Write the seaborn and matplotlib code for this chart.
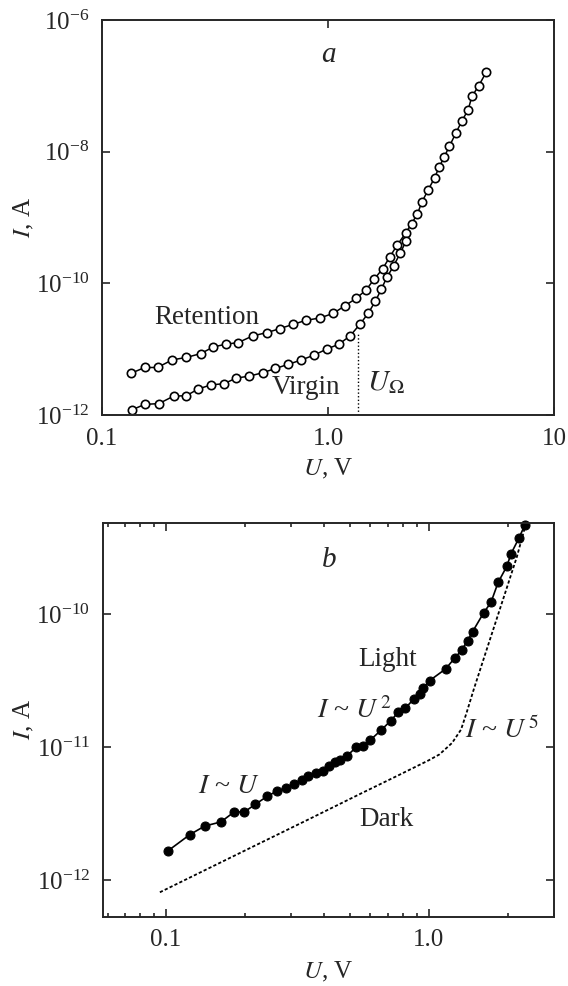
import matplotlib
matplotlib.use("Agg")
import matplotlib.pyplot as plt
import matplotlib.ticker as mticker
import seaborn as sns
import pandas as pd

# Painel a: curvas I-U (Virgin / Retention)
retention_U = [0.135, 0.1545, 0.176, 0.2046, 0.236, 0.274, 0.3105, 0.353, 0.4006, 0.464,
               0.538, 0.614, 0.702, 0.801, 0.922, 1.057, 1.185, 1.334, 1.473, 1.598,
               1.746, 1.879, 2.023, 2.211, 2.345, 2.488, 2.60, 2.78, 2.96, 3.10,
               3.26, 3.44, 3.68, 3.90, 4.17, 4.33, 4.64, 5.01]
retention_I = [4.33e-12, 5.27e-12, 5.27e-12, 6.89e-12, 7.48e-12, 8.59e-12, 1.08e-11, 1.19e-11, 1.26e-11, 1.59e-11,
               1.79e-11, 2.06e-11, 2.39e-11, 2.75e-11, 2.98e-11, 3.51e-11, 4.54e-11, 5.93e-11, 7.92e-11, 1.15e-10,
               1.67e-10, 2.54e-10, 3.81e-10, 5.86e-10, 8.11e-10, 1.14e-9, 1.71e-9, 2.66e-9, 3.99e-9, 5.79e-9,
               8.20e-9, 1.20e-8, 1.92e-8, 2.88e-8, 4.33e-8, 6.89e-8, 1.0e-7, 1.61e-7]

virgin_U = [0.1358, 0.1545, 0.1785, 0.2076, 0.236, 0.266, 0.3048, 0.3455, 0.393, 0.449,
            0.513, 0.5856, 0.664, 0.758, 0.866, 0.985, 1.117, 1.252, 1.384, 1.506,
            1.622, 1.72, 1.824, 1.95, 2.084, 2.211]
virgin_I = [1.20e-12, 1.45e-12, 1.49e-12, 1.94e-12, 1.96e-12, 2.48e-12, 2.88e-12, 2.98e-12, 3.64e-12, 3.90e-12,
            4.38e-12, 5.09e-12, 5.86e-12, 6.81e-12, 8.11e-12, 1.0e-11, 1.19e-11, 1.59e-11, 2.39e-11, 3.51e-11,
            5.40e-11, 8.11e-11, 1.25e-10, 1.83e-10, 2.85e-10, 4.33e-10]

U_omega = 1.364
U_omega_I = [1e-12, 1.78e-11]

# Painel b: Light (pontos) e Dark (tracejado)
light_U = [0.1016, 0.1235, 0.1406, 0.162, 0.182, 0.199, 0.2186, 0.2433, 0.264, 0.2858,
           0.3074, 0.3295, 0.3475, 0.3725, 0.398, 0.4174, 0.4404, 0.4618, 0.4872, 0.5289,
           0.5631, 0.598, 0.6575, 0.7182, 0.765, 0.815, 0.876, 0.924, 0.954, 1.009,
           1.16, 1.255, 1.337, 1.406, 1.469, 1.62, 1.726, 1.838, 1.983, 2.06, 2.207, 2.32]
light_I = [1.66e-12, 2.21e-12, 2.56e-12, 2.75e-12, 3.27e-12, 3.27e-12, 3.72e-12, 4.29e-12, 4.68e-12, 4.95e-12,
           5.34e-12, 5.72e-12, 6.13e-12, 6.42e-12, 6.61e-12, 7.20e-12, 7.72e-12, 7.99e-12, 8.56e-12, 1.0e-11,
           1.02e-11, 1.13e-11, 1.34e-11, 1.59e-11, 1.83e-11, 1.97e-11, 2.30e-11, 2.53e-11, 2.79e-11, 3.18e-11,
           3.89e-11, 4.68e-11, 5.40e-11, 6.35e-11, 7.41e-11, 1.03e-10, 1.23e-10, 1.74e-10, 2.30e-10, 2.87e-10,
           3.76e-10, 4.68e-10]

dark_U = [0.0949, 0.1393, 0.2166, 0.3475, 0.558, 0.765, 1.0, 1.099, 1.228, 1.328,
          1.393, 1.483, 1.630, 1.792, 1.97, 2.166, 2.344]
dark_I = [8.13e-13, 1.18e-12, 1.81e-12, 2.86e-12, 4.54e-12, 6.15e-12, 7.99e-12, 8.85e-12, 1.08e-11, 1.36e-11,
          1.81e-11, 2.71e-11, 4.82e-11, 8.56e-11, 1.52e-10, 2.71e-10, 4.81e-10]

xticks_a = [0.1, 1.0, 10]
xticklabels_a = ["0.1", "1.0", "10"]
xticks_b = [0.1, 1.0]
xticklabels_b = ["0.1", "1.0"]

sns.set_style("ticks")
plt.rcParams["font.family"] = ["Liberation Serif", "DejaVu Serif"]
plt.rcParams["mathtext.fontset"] = "stix"
plt.rcParams["axes.linewidth"] = 1.4

fig = plt.figure(figsize=(5.68, 9.86), dpi=100)
ax1 = fig.add_axes([0.1796, 0.5791, 0.7958, 0.4006])
ax2 = fig.add_axes([0.1808, 0.0700, 0.7946, 0.3999])

df_ret = pd.DataFrame({"U": retention_U, "I": retention_I})
df_vir = pd.DataFrame({"U": virgin_U, "I": virgin_I})
df_light = pd.DataFrame({"U": light_U, "I": light_I})
df_dark = pd.DataFrame({"U": dark_U, "I": dark_I})

# --- painel a
for d in (df_ret, df_vir):
    sns.lineplot(data=d, x="U", y="I", ax=ax1, color="black", lw=1.1, marker="o",
                 markersize=6, markerfacecolor="white", markeredgecolor="black",
                 markeredgewidth=1.2, estimator=None, sort=False, clip_on=False)
ax1.plot([U_omega, U_omega], U_omega_I, color="black", lw=1.0, ls=(0, (1, 1.6)))
ax1.set(xscale="log", yscale="log", xlim=(0.1, 10), ylim=(1e-12, 1e-6))
ax1.set_xticks(xticks_a)
ax1.set_xticklabels(xticklabels_a)
ax1.yaxis.set_major_locator(mticker.FixedLocator([1e-12, 1e-10, 1e-8, 1e-6]))
ax1.xaxis.set_minor_locator(mticker.NullLocator())
ax1.yaxis.set_minor_locator(mticker.NullLocator())
ax1.text(1.0, 2.95e-7, "a", fontsize=21, style="italic", ha="center", va="center")
ax1.text(0.292, 3.0e-11, "Retention", fontsize=19.5, ha="center", va="center")
ax1.text(0.80, 2.63e-12, "Virgin", fontsize=19.5, ha="center", va="center")
ax1.text(1.48, 3.13e-12, r"$U_{\Omega}$", fontsize=21, ha="left", va="center")

# --- painel b
sns.lineplot(data=df_light, x="U", y="I", ax=ax2, color="black", lw=1.2, marker="o",
             markersize=6.5, markerfacecolor="black", markeredgecolor="black",
             estimator=None, sort=False, clip_on=False)
sns.lineplot(data=df_dark, x="U", y="I", ax=ax2, color="black", lw=1.3,
             linestyle=(0, (1.8, 1.2)), estimator=None, sort=False)
ax2.set(xscale="log", yscale="log", xlim=(0.0575, 3.0), ylim=(5.3e-13, 4.9e-10))
ax2.set_xticks(xticks_b)
ax2.set_xticklabels(xticklabels_b)
ax2.xaxis.set_minor_locator(mticker.LogLocator(base=10, subs=range(2, 10)))
ax2.xaxis.set_minor_formatter(mticker.NullFormatter())
ax2.yaxis.set_major_locator(mticker.FixedLocator([1e-12, 1e-11, 1e-10]))
ax2.yaxis.set_minor_locator(mticker.NullLocator())
ax2.text(0.42, 2.57e-10, "b", fontsize=21, style="italic", ha="center", va="center")
ax2.text(0.70, 4.6e-11, "Light", fontsize=19.5, ha="center", va="center")
ax2.text(0.52, 1.9e-11, r"$I$ ~ $U^{\,2}$", fontsize=20, ha="center", va="center")
ax2.text(1.91, 1.35e-11, r"$I$ ~ $U^{\,5}$", fontsize=20, ha="center", va="center")
ax2.text(0.174, 5.1e-12, r"$I$ ~ $U$", fontsize=20, ha="center", va="center")
ax2.text(0.69, 2.88e-12, "Dark", fontsize=19.5, ha="center", va="center")

for ax in (ax1, ax2):
    ax.tick_params(which="both", direction="in", top=True, right=True, labelsize=18, width=1.2)
    ax.tick_params(which="major", length=6)
    ax.tick_params(which="minor", length=3)
    ax.tick_params(axis="y", pad=9)
    ax.tick_params(axis="x", pad=9)
    ax.set_ylabel(r"$I$, A", fontsize=18, labelpad=0)
ax1.set_xlabel(r"$U$, V", fontsize=18, labelpad=5)
ax2.set_xlabel(r"$U$, V", fontsize=18, labelpad=6)

fig.savefig("out.png", dpi=100)
